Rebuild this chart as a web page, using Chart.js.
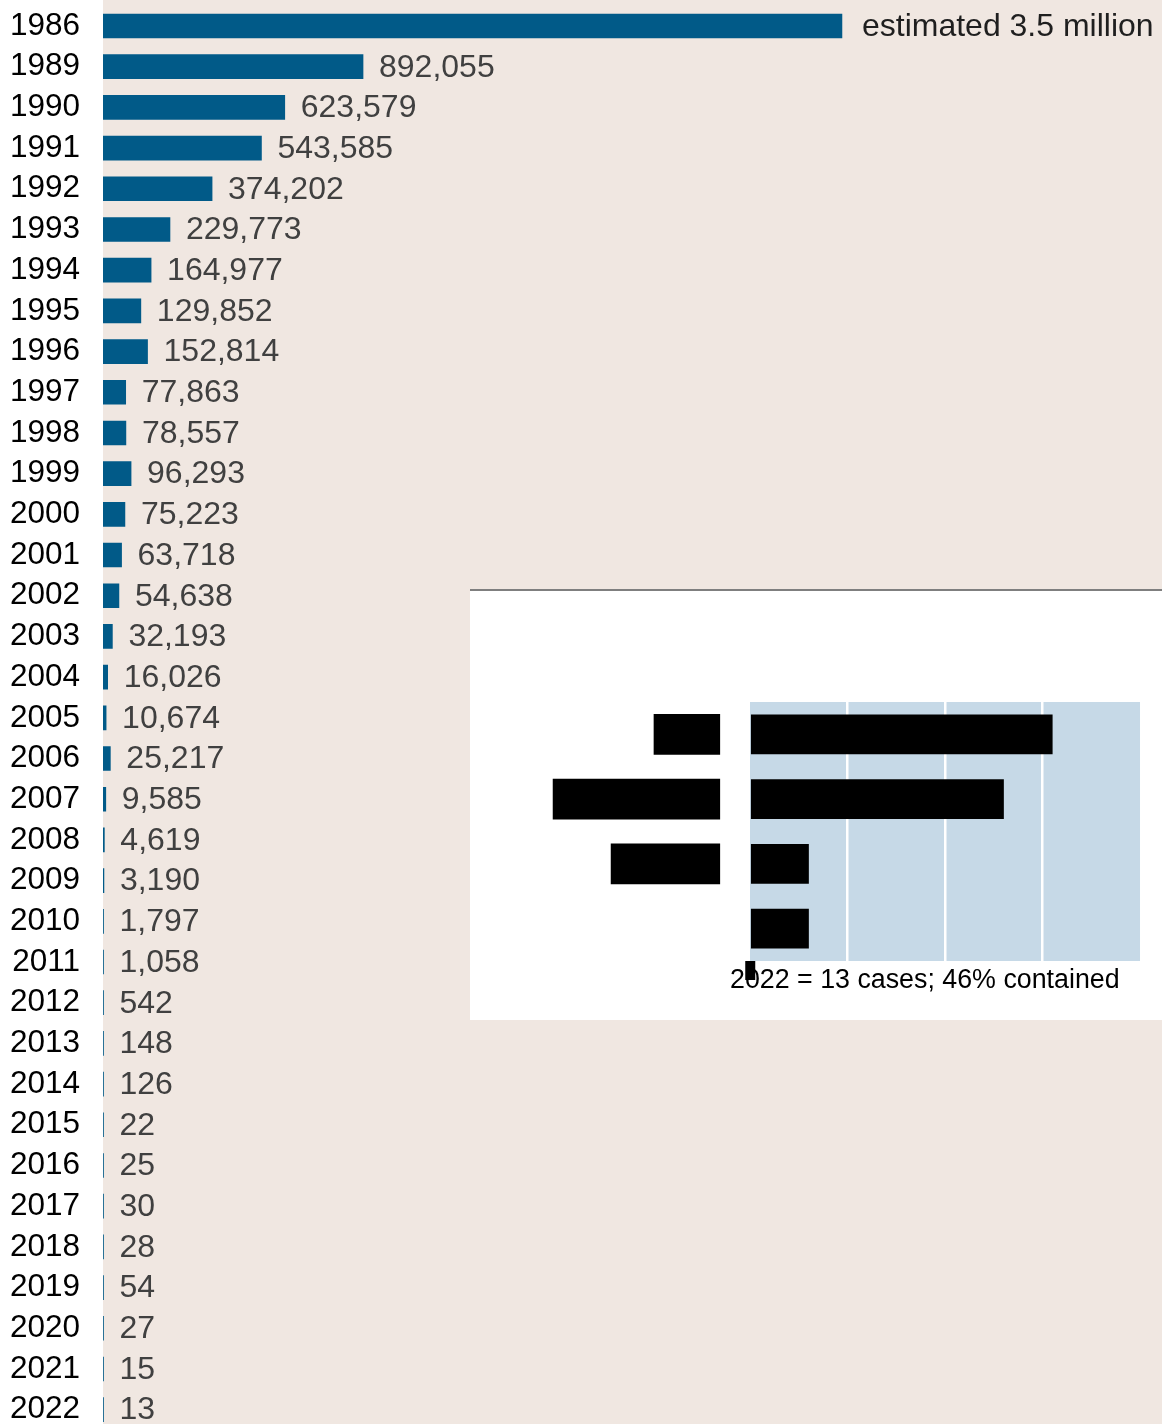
<!DOCTYPE html>
<html>
<head>
<meta charset="utf-8">
<script src="https://cdn.jsdelivr.net/npm/chart.js@4.4.1/dist/chart.umd.min.js"></script>
<style>
  html, body { margin: 0; padding: 0; background: #fff; overflow: hidden; }
  #wrap { position: relative; width: 1162px; height: 1424px; overflow: hidden; }
  #main { position: absolute; left: 0; top: 0; }
  #inset { position: absolute; left: 470px; top: 589px; width: 692px; height: 429px;
           background: #fff; border-top: 2px solid #7f7f7f; }
  #insetChart { display: block; }
</style>
</head>
<body>
<div id="wrap">
  <canvas id="main" width="1162" height="1430"></canvas>
  <div id="inset"><canvas id="insetChart" width="692" height="429"></canvas></div>
</div>
<script>
// Casos por año
const years = ['1986', '1989', '1990', '1991', '1992', '1993', '1994', '1995', '1996', '1997',
    '1998', '1999', '2000', '2001', '2002', '2003', '2004', '2005', '2006', '2007', '2008',
    '2009', '2010', '2011', '2012', '2013', '2014', '2015', '2016', '2017', '2018', '2019',
    '2020', '2021', '2022'];
const cases = [3500000, 892055, 623579, 543585, 374202, 229773, 164977, 129852, 152814, 77863,
    78557, 96293, 75223, 63718, 54638, 32193, 16026, 10674, 25217, 9585, 4619,
    3190, 1797, 1058, 542, 148, 126, 22, 25, 30, 28, 54,
    27, 15, 13];
// the 1986 bar is drawn shortened in the original
const BAR_CAP = 2535000;
const X_MAX = 3633000;

// Inset (2022)
const insetRows = ['Chad', 'South Sudan', 'Ethiopia', 'CAR'];
const insetValues = [6.2, 5.2, 1.2, 1.2];
const insetLabelBoxes = [[-1.97, -0.62], [-4.04, -0.62], [-2.85, -0.62], null];
const insetGrid = [0, 2, 4, 6];
const insetCaption = '2022 = 13 cases; 46% contained';

const valueLabels = cases.map(v => v.toLocaleString('en-US'));
valueLabels[0] = 'estimated 3.5 million';

const FONT = "'Liberation Sans', Arial, sans-serif";
const COLORS = {
    bar: '#015a88',
    beige: '#f0e7e1',
    label: '#404040',
    panel: '#c6d9e7',
};

const beigePlugin = {
    id: 'beige',
    beforeDraw(chart) {
        const { ctx, chartArea } = chart;
        ctx.save();
        ctx.fillStyle = COLORS.beige;
        ctx.fillRect(chartArea.left, 0, chartArea.right - chartArea.left, chart.height);
        ctx.restore();
    }
};

const valueLabelPlugin = {
    id: 'valueLabels',
    afterDatasetsDraw(chart) {
        const ctx = chart.ctx;
        const meta = chart.getDatasetMeta(0);
        ctx.save();
        ctx.font = `32px ${FONT}`;
        ctx.textAlign = 'left';
        ctx.textBaseline = 'middle';
        meta.data.forEach((bar, i) => {
            ctx.fillStyle = i === 0 ? '#1f1f1f' : COLORS.label;
            ctx.fillText(valueLabels[i], bar.x + (i === 0 ? 20 : 16), bar.y + 1);
        });
        ctx.restore();
    }
};

new Chart(document.getElementById('main'), {
    type: 'bar',
    data: {
        labels: years,
        datasets: [{
            data: cases.map(v => Math.min(v, BAR_CAP)),
            backgroundColor: COLORS.bar,
            barThickness: 24,
            minBarLength: 0.5,
        }]
    },
    options: {
        indexAxis: 'y',
        responsive: false,
        animation: false,
        layout: { padding: { top: 5.65, left: 0, right: 0, bottom: 0 } },
        plugins: { legend: { display: false }, tooltip: { enabled: false } },
        scales: {
            x: { display: false, min: 0, max: X_MAX },
            y: {
                grid: { display: false, drawTicks: false },
                border: { display: false },
                ticks: { color: '#000', padding: 23, autoSkip: false, font: { family: FONT, size: 31.5 } },
                afterFit(scale) {
                    scale.width = 103;
                    scale.paddingTop = 0;
                    scale.paddingBottom = 0;
                }
            }
        }
    },
    plugins: [beigePlugin, valueLabelPlugin]
});

const panelPlugin = {
    id: 'panel',
    beforeDraw(chart) {
        const { ctx, chartArea, scales } = chart;
        const x0 = scales.x.getPixelForValue(0);
        const x1 = scales.x.getPixelForValue(8);
        ctx.save();
        ctx.fillStyle = COLORS.panel;
        ctx.fillRect(x0, chartArea.top, x1 - x0, chartArea.bottom - chartArea.top);
        ctx.restore();
    },
    afterDraw(chart) {
        const { ctx, chartArea, scales } = chart;
        ctx.save();
        ctx.font = `26.8px ${FONT}`;
        ctx.fillStyle = '#000';
        ctx.textAlign = 'left';
        ctx.textBaseline = 'alphabetic';
        ctx.fillText(insetCaption, scales.x.getPixelForValue(0) - 20, chartArea.bottom + 27);
        ctx.restore();
    }
};

new Chart(document.getElementById('insetChart'), {
    type: 'bar',
    data: {
        labels: insetRows,
        datasets: [
            { data: insetValues, backgroundColor: '#000', barThickness: 39, grouped: false },
            { data: insetLabelBoxes, backgroundColor: '#000', barThickness: 40, grouped: false },
        ]
    },
    options: {
        indexAxis: 'y',
        responsive: false,
        animation: false,
        layout: { padding: { top: 111, bottom: 40, left: 0, right: 0 } },
        plugins: { legend: { display: false }, tooltip: { enabled: false } },
        scales: {
            y: { display: false },
            x: {
                min: -5.744,
                max: 8.451,
                afterBuildTicks(scale) { scale.ticks = insetGrid.map(v => ({ value: v })); },
                ticks: { display: false },
                border: { display: false },
                grid: {
                    drawTicks: true,
                    tickLength: 19,
                    lineWidth: 2.5,
                    color: (c) => c.tick && c.tick.value > 0 ? '#fff' : 'rgba(0,0,0,0)',
                    tickColor: (c) => c.tick && c.tick.value === 0 ? '#000' : 'rgba(0,0,0,0)',
                    tickWidth: (c) => c.tick && c.tick.value === 0 ? 10 : 1,
                }
            }
        }
    },
    plugins: [panelPlugin]
});
</script>
</body>
</html>
